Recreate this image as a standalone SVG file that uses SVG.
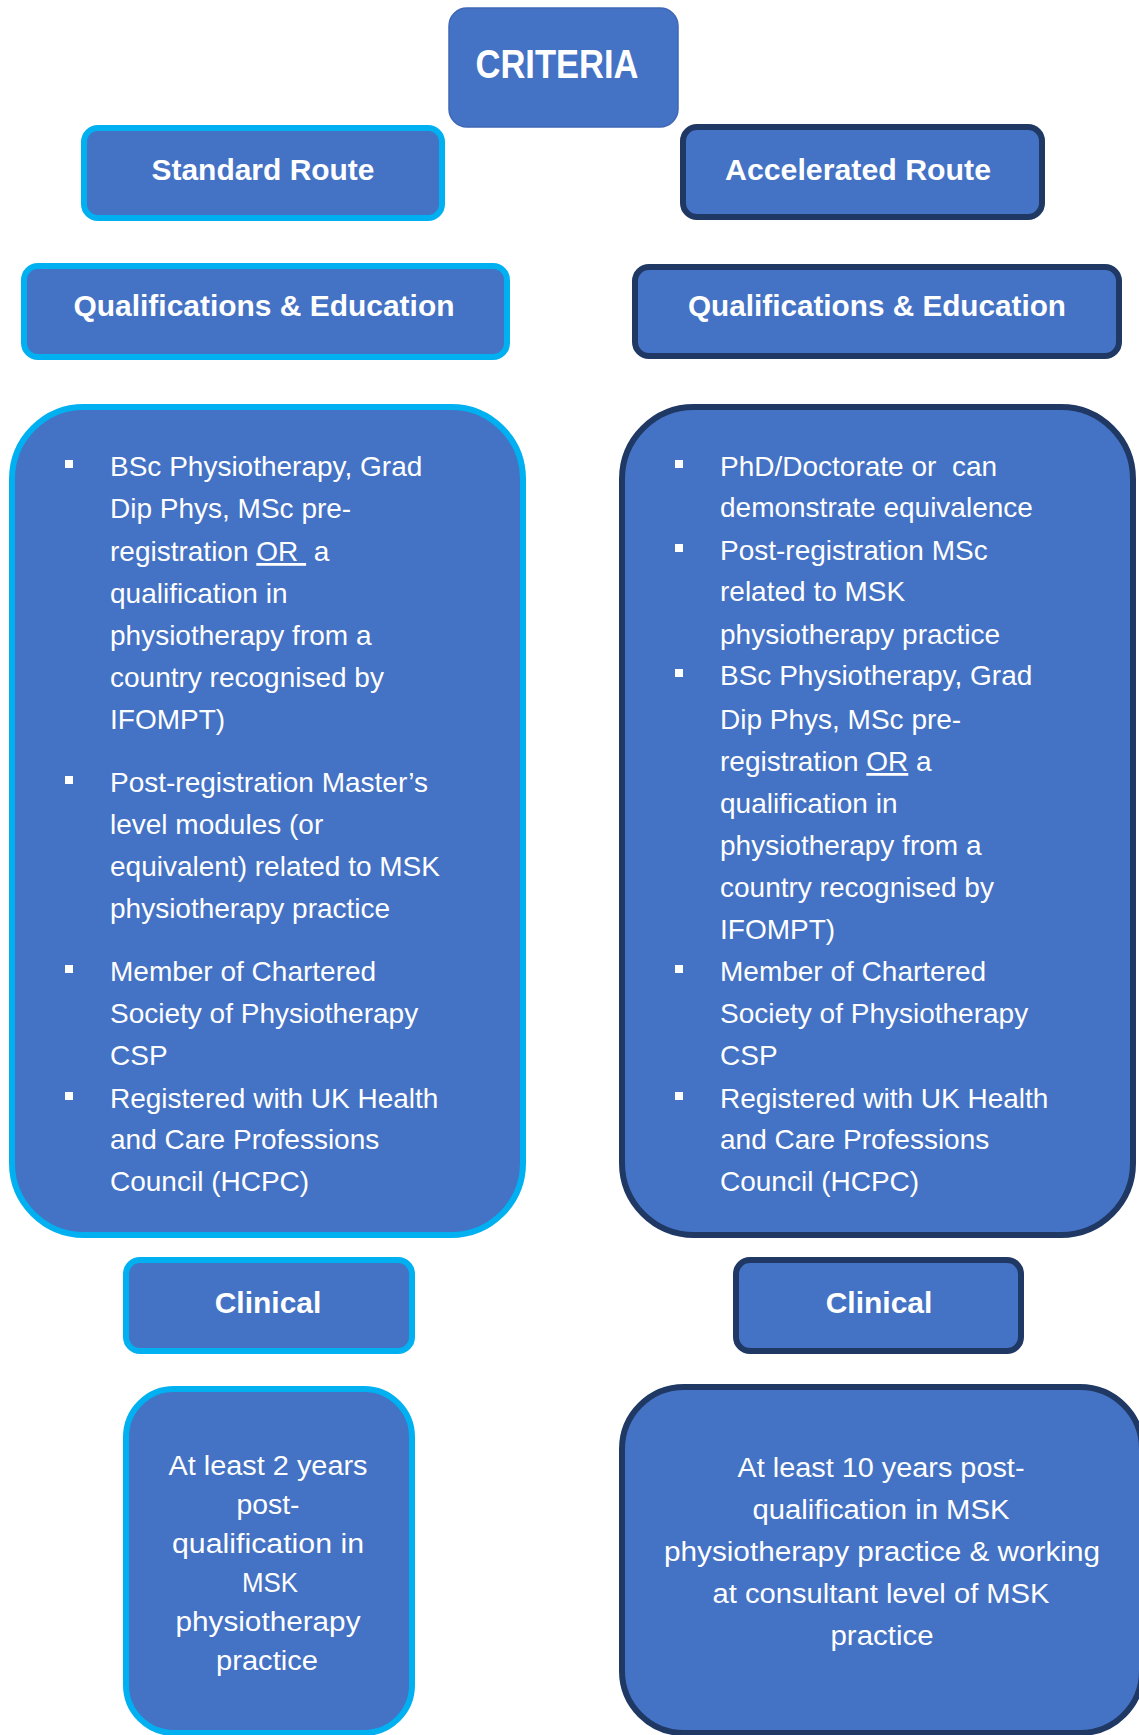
<svg xmlns="http://www.w3.org/2000/svg" width="1139" height="1735" viewBox="0 0 1139 1735">
<style>
.box{fill:#4472C4}
.lb{stroke:#00B0F0;stroke-width:6}
.db{stroke:#1F3864;stroke-width:6}
.hd{font-family:"Liberation Sans",Arial,sans-serif;font-weight:bold;font-size:30px;fill:#fff;text-anchor:middle}
.bt{font-family:"Liberation Sans",Arial,sans-serif;font-size:28px;fill:#fff}
.ct{font-family:"Liberation Sans",Arial,sans-serif;font-size:27px;fill:#fff;text-anchor:middle}
.bul{fill:#fff}
</style>
<rect width="1139" height="1735" fill="#fff"/>
<g id="criteria">
<rect class="box" x="449" y="8" width="229" height="119" rx="18" stroke="#3F67B5" stroke-width="1.5"/>
<text class="hd" x="557" y="78" textLength="163" lengthAdjust="spacingAndGlyphs" style="font-size:40px">CRITERIA</text>
</g>
<g id="standard-route">
<rect class="box lb" x="84" y="128" width="358" height="90" rx="14"/>
<text class="hd" x="263" y="180" textLength="223" lengthAdjust="spacingAndGlyphs">Standard Route</text>
</g>
<g id="accelerated-route">
<rect class="box db" x="683" y="127" width="359" height="90" rx="14"/>
<text class="hd" x="858" y="180" textLength="266" lengthAdjust="spacingAndGlyphs">Accelerated Route</text>
</g>
<g id="qe-standard">
<rect class="box lb" x="24" y="266" width="483" height="91" rx="14"/>
<text class="hd" x="264" y="316" textLength="381" lengthAdjust="spacingAndGlyphs">Qualifications &amp; Education</text>
</g>
<g id="qe-accelerated">
<rect class="box db" x="635" y="267" width="484" height="89" rx="14"/>
<text class="hd" x="877" y="316" textLength="378" lengthAdjust="spacingAndGlyphs">Qualifications &amp; Education</text>
</g>
<g id="standard-criteria">
<rect class="box lb" x="12" y="407" width="511" height="828" rx="72"/>
<rect class="bul" x="65" y="460" width="8" height="8"/>
<rect class="bul" x="65" y="776" width="8" height="8"/>
<rect class="bul" x="65" y="965" width="8" height="8"/>
<rect class="bul" x="65" y="1092" width="8" height="8"/>
<text class="bt">
<tspan x="110" y="476">BSc Physiotherapy, Grad</tspan>
<tspan x="110" y="518">Dip Phys, MSc pre-</tspan>
<tspan x="110" y="561">registration <tspan text-decoration="underline">OR&#160;</tspan> a</tspan>
<tspan x="110" y="603">qualification in</tspan>
<tspan x="110" y="645">physiotherapy from a</tspan>
<tspan x="110" y="687">country recognised by</tspan>
<tspan x="110" y="729">IFOMPT)</tspan>
<tspan x="110" y="792">Post-registration Master’s</tspan>
<tspan x="110" y="834">level modules (or</tspan>
<tspan x="110" y="876">equivalent) related to MSK</tspan>
<tspan x="110" y="918">physiotherapy practice</tspan>
<tspan x="110" y="981">Member of Chartered</tspan>
<tspan x="110" y="1023">Society of Physiotherapy</tspan>
<tspan x="110" y="1065">CSP</tspan>
<tspan x="110" y="1108">Registered with UK Health</tspan>
<tspan x="110" y="1149">and Care Professions</tspan>
<tspan x="110" y="1191">Council (HCPC)</tspan>
</text>
</g>
<g id="accelerated-criteria">
<rect class="box db" x="622" y="407" width="511" height="828" rx="72"/>
<rect class="bul" x="675" y="460" width="8" height="8"/>
<rect class="bul" x="675" y="544" width="8" height="8"/>
<rect class="bul" x="675" y="669" width="8" height="8"/>
<rect class="bul" x="675" y="965" width="8" height="8"/>
<rect class="bul" x="675" y="1092" width="8" height="8"/>
<text class="bt">
<tspan x="720" y="476">PhD/Doctorate or&#160; can</tspan>
<tspan x="720" y="517">demonstrate equivalence</tspan>
<tspan x="720" y="560">Post-registration MSc</tspan>
<tspan x="720" y="601">related to MSK</tspan>
<tspan x="720" y="644">physiotherapy practice</tspan>
<tspan x="720" y="685">BSc Physiotherapy, Grad</tspan>
<tspan x="720" y="729">Dip Phys, MSc pre-</tspan>
<tspan x="720" y="771">registration <tspan text-decoration="underline">OR</tspan> a</tspan>
<tspan x="720" y="813">qualification in</tspan>
<tspan x="720" y="855">physiotherapy from a</tspan>
<tspan x="720" y="897">country recognised by</tspan>
<tspan x="720" y="939">IFOMPT)</tspan>
<tspan x="720" y="981">Member of Chartered</tspan>
<tspan x="720" y="1023">Society of Physiotherapy</tspan>
<tspan x="720" y="1065">CSP</tspan>
<tspan x="720" y="1108">Registered with UK Health</tspan>
<tspan x="720" y="1149">and Care Professions</tspan>
<tspan x="720" y="1191">Council (HCPC)</tspan>
</text>
</g>
<g id="clinical-standard">
<rect class="box lb" x="126" y="1260" width="286" height="91" rx="14"/>
<text class="hd" x="268" y="1313">Clinical</text>
</g>
<g id="clinical-accelerated">
<rect class="box db" x="736" y="1260" width="285" height="91" rx="14"/>
<text class="hd" x="879" y="1313">Clinical</text>
</g>
<g id="clinical-standard-detail">
<rect class="box lb" x="126" y="1389" width="286" height="344" rx="48"/>
<text class="ct" x="268" y="1475" textLength="199" lengthAdjust="spacingAndGlyphs">At least 2 years</text>
<text class="ct" x="268" y="1514" textLength="63" lengthAdjust="spacingAndGlyphs">post-</text>
<text class="ct" x="268" y="1553" textLength="192" lengthAdjust="spacingAndGlyphs">qualification in</text>
<text class="ct" x="270" y="1592" textLength="56" lengthAdjust="spacingAndGlyphs">MSK</text>
<text class="ct" x="268" y="1631" textLength="185" lengthAdjust="spacingAndGlyphs">physiotherapy</text>
<text class="ct" x="267" y="1670" textLength="102" lengthAdjust="spacingAndGlyphs">practice</text>
</g>
<g id="clinical-accelerated-detail">
<rect class="box db" x="622" y="1387" width="520" height="346" rx="62"/>
<text class="ct" x="881" y="1477" textLength="287" lengthAdjust="spacingAndGlyphs">At least 10 years post-</text>
<text class="ct" x="881" y="1519" textLength="257" lengthAdjust="spacingAndGlyphs">qualification in MSK</text>
<text class="ct" x="882" y="1561" textLength="436" lengthAdjust="spacingAndGlyphs">physiotherapy practice &amp; working</text>
<text class="ct" x="881" y="1603" textLength="337" lengthAdjust="spacingAndGlyphs">at consultant level of MSK</text>
<text class="ct" x="882" y="1645" textLength="103" lengthAdjust="spacingAndGlyphs">practice</text>
</g>
</svg>
